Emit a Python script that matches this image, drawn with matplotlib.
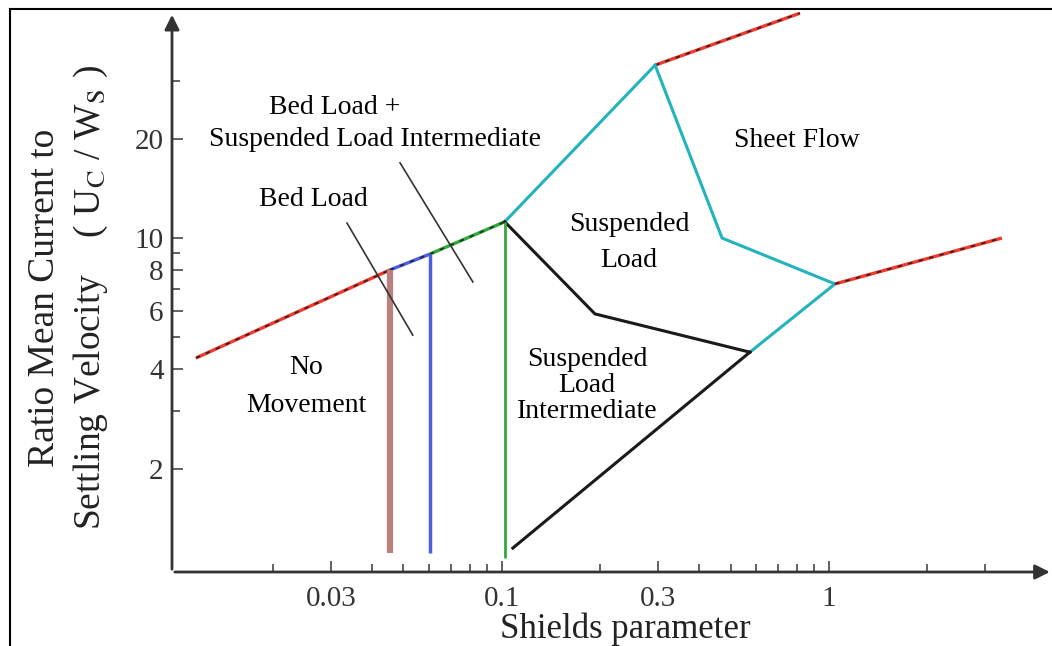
import matplotlib
matplotlib.use("Agg")
import matplotlib.pyplot as plt
from matplotlib.lines import Line2D

plt.rcParams['font.family'] = ['Liberation Serif', 'DejaVu Serif']
plt.rcParams['mathtext.fontset'] = 'stix'

# boundary of motion onset (left to right along the top edge)
red_low_x = [0.0116, 0.0454]
red_low_y = [4.33, 8.0]
blue_top_x = [0.0454, 0.0602]
blue_top_y = [8.0, 8.94]
green_top_x = [0.0602, 0.102]
green_top_y = [8.94, 11.2]
cyan_top_x = [0.102, 0.294]
cyan_top_y = [11.2, 33.4]
red_top_x = [0.294, 0.815]
red_top_y = [33.4, 48.0]

# sheet flow boundary
sheet_x = [0.294, 0.471, 1.043, 0.573]
sheet_y = [33.4, 10.0, 7.26, 4.51]
red_right_x = [1.043, 3.38]
red_right_y = [7.26, 10.0]

# suspended load boundaries
black_up_x = [0.102, 0.1925, 0.573]
black_up_y = [11.2, 5.89, 4.51]
black_low_x = [0.108, 0.573]
black_low_y = [1.15, 4.51]

# vertical thresholds
brown_x = [0.0454, 0.0454]
brown_y = [8.0, 1.11]
blue_x = [0.0602, 0.0602]
blue_y = [8.94, 1.11]
green_x = [0.102, 0.102]
green_y = [11.2, 1.07]

# label leader lines
lead_bed_x = [0.0336, 0.0534]
lead_bed_y = [11.1, 5.08]
lead_mix_x = [0.0488, 0.0815]
lead_mix_y = [16.9, 7.36]

xticks = [0.03, 0.1, 0.3, 1]
xticklabels = ["0.03", "0.1", "0.3", "1"]
xminor = [0.02, 0.04, 0.05, 0.06, 0.07, 0.08, 0.09,
          0.2, 0.4, 0.5, 0.6, 0.7, 0.8, 0.9, 2, 3]
yticks = [2, 4, 6, 8, 10, 20]
yminor = [3, 5, 7, 9, 30]

fig = plt.figure(figsize=(10.52, 6.46), dpi=100)
ax = fig.add_axes([172 / 1052, 74 / 646, 878 / 1052, 560 / 646])
ax.set_xscale('log')
ax.set_yscale('log')
ax.set_xlim(0.0098, 4.74)
ax.set_ylim(0.973, 48.4)

RED = '#f03a30'
BLUE = '#4a5ee0'
GREEN = '#33a83a'
CYAN = '#22b3bd'


def dashed(x, y, color):
    ax.plot(x, y, color=color, lw=2.4, solid_capstyle='butt')
    ax.plot(x, y, color='#111111', lw=1.3, dashes=(2.5, 3.5), alpha=0.75)


dashed(red_low_x, red_low_y, RED)
dashed(blue_top_x, blue_top_y, BLUE)
dashed(green_top_x, green_top_y, GREEN)
ax.plot(cyan_top_x, cyan_top_y, color=CYAN, lw=2.2)
dashed(red_top_x, red_top_y, RED)
ax.plot(sheet_x, sheet_y, color=CYAN, lw=2.2)
dashed(red_right_x, red_right_y, RED)

ax.plot(black_up_x, black_up_y, color='#1a1a1a', lw=2.2)
ax.plot(black_low_x, black_low_y, color='#1a1a1a', lw=2.2)

ax.plot(brown_x, brown_y, color='#b98080', lw=4.5, solid_capstyle='butt')
ax.plot(blue_x, blue_y, color=BLUE, lw=2.5, solid_capstyle='butt')
ax.plot(green_x, green_y, color=GREEN, lw=2, solid_capstyle='butt')

ax.plot(lead_bed_x, lead_bed_y, color='#333333', lw=1.2)
ax.plot(lead_mix_x, lead_mix_y, color='#333333', lw=1.2)

# region labels
fs = 20
ax.text(0.0309, 24.8, "Bed Load +", ha='center', va='center', fontsize=fs)
ax.text(0.0409, 19.95, "Suspended Load Intermediate", ha='center', va='center', fontsize=fs)
ax.text(0.0266, 13.1, "Bed Load", ha='center', va='center', fontsize=fs)
ax.text(0.0252, 3.55, "No\nMovement", ha='center', va='center', fontsize=fs, linespacing=1.65)
ax.text(0.2445, 9.7, "Suspended\nLoad", ha='center', va='center', fontsize=fs, linespacing=1.55)
ax.text(0.798, 19.8, "Sheet Flow", ha='center', va='center', fontsize=fs)
ax.text(0.182, 3.58, "Suspended\nLoad\nIntermediate", ha='center', va='center',
        fontsize=fs, linespacing=1.05)

# axes with arrows
for s in ax.spines.values():
    s.set_visible(False)
ax.annotate('', xy=(1.003, 0), xytext=(0, 0), xycoords='axes fraction',
            arrowprops=dict(arrowstyle='-|>', color='#333333', lw=2, mutation_scale=22))
ax.annotate('', xy=(0, 1.0), xytext=(0, 0), xycoords='axes fraction',
            arrowprops=dict(arrowstyle='-|>', color='#333333', lw=2, mutation_scale=22))

ax.set_xticks(xticks)
ax.set_xticklabels(xticklabels)
ax.set_xticks(xminor, minor=True)
ax.set_yticks(yticks)
ax.set_yticklabels([str(v) for v in yticks])
ax.set_yticks(yminor, minor=True)
ax.tick_params(which='both', direction='in', color='#555555', width=1.3)
ax.tick_params(which='major', length=8, labelsize=21, labelcolor='#333333')
ax.tick_params(which='minor', length=6, labelleft=False, labelbottom=False)
ax.tick_params(axis='x', which='major', pad=10)
ax.tick_params(axis='y', which='major', pad=6)

ax.set_xlabel("Shields parameter", fontsize=25, color='#222222')
ax.xaxis.set_label_coords(0.516, -0.072)
ax.set_ylabel("Ratio Mean Current to\nSettling Velocity    ( U$_\\mathrm{C}$ / W$_\\mathrm{S}$ )",
              fontsize=27, color='#222222', linespacing=1.35)
ax.yaxis.set_label_coords(-0.071, 0.49)

# frame around the picture (top and left edges)
fig.add_artist(Line2D([10 / 1052, 10 / 1052], [0, 1 - 9 / 646], color='black', lw=1.5))
fig.add_artist(Line2D([10 / 1052, 1], [1 - 9 / 646, 1 - 9 / 646], color='black', lw=1.5))

fig.savefig("out.png", dpi=100)
